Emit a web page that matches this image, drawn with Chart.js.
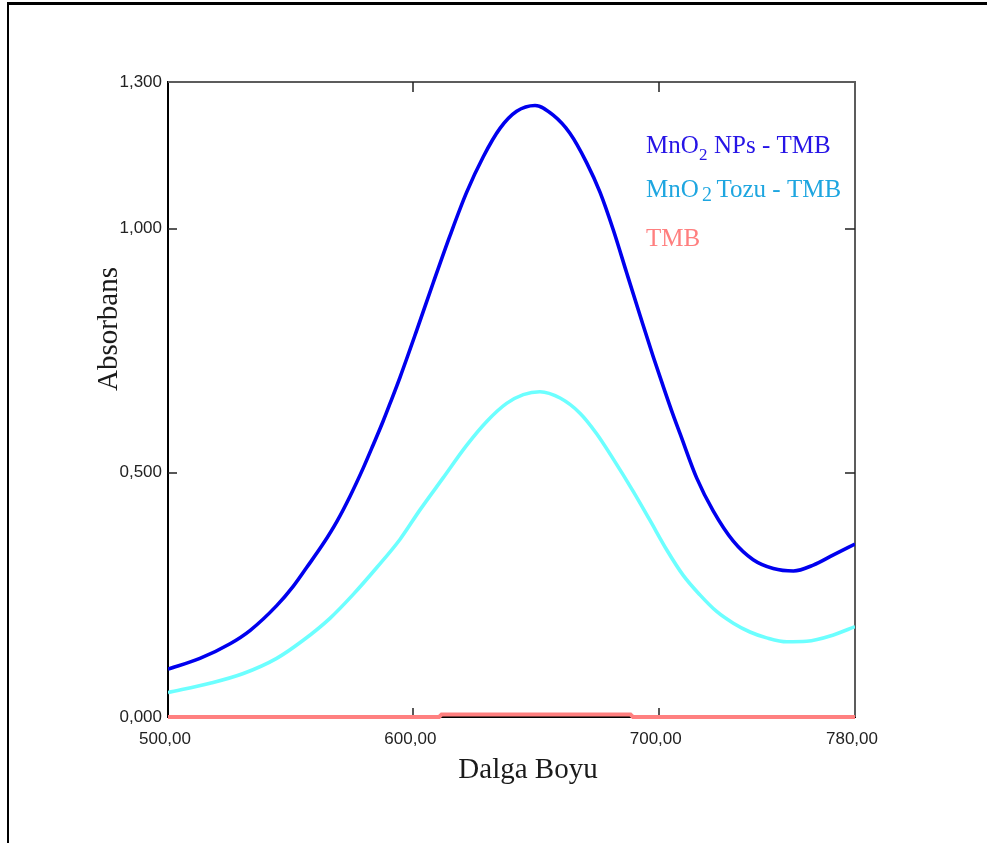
<!DOCTYPE html>
<html lang="tr">
<head>
<meta charset="utf-8">
<title>Absorbans spektrumu</title>
<script src="https://cdn.jsdelivr.net/npm/chart.js@4/dist/chart.umd.min.js"></script>
<style>
  html, body { margin: 0; padding: 0; background: #fff; }
  #wrap { position: relative; width: 987px; height: 843px; overflow: hidden; }
  #wrap canvas { position: absolute; left: 0; top: 0; }
  #frame { position: absolute; left: 7px; top: 2px; right: -10px; bottom: -10px;
           border-left: 2px solid #000; border-top: 3px solid #000; pointer-events: none; }
</style>
</head>
<body>
<div id="wrap">
  <canvas id="spectrum" width="987" height="843"></canvas>
  <div id="frame"></div>
</div>
<script>
// Wavelength (nm) and absorbance pairs for each measured spectrum
const npsWavelength = [500, 513, 525.3, 533.4, 544.3, 551.1, 556.5, 563.3, 568.8, 574.2, 579.6, 583.7, 587.7, 590.5, 594.6, 601.4, 608.1, 614.9, 621.7, 628.5, 635.3, 642.1, 649.6, 657.0, 663.8, 670.6, 676.1, 681.5, 686.9, 692.4, 697.8, 701.9, 705.9, 708.7, 715.5, 722.2, 730.4, 738.5, 746.7, 754.9, 763.0, 771.2, 780];
const npsAbsorbance = [0.098, 0.120, 0.150, 0.177, 0.228, 0.268, 0.306, 0.355, 0.400, 0.452, 0.510, 0.558, 0.606, 0.642, 0.696, 0.792, 0.889, 0.985, 1.074, 1.147, 1.205, 1.240, 1.252, 1.232, 1.195, 1.135, 1.074, 0.997, 0.910, 0.822, 0.737, 0.676, 0.618, 0.580, 0.489, 0.422, 0.360, 0.322, 0.304, 0.299, 0.311, 0.332, 0.354];

const tozuWavelength = [500, 517.1, 530.7, 544.3, 555.1, 566.0, 575.5, 585.1, 594.6, 602.7, 612.2, 621.7, 629.9, 638.0, 644.8, 651.6, 659.8, 667.9, 674.7, 681.5, 689.6, 696.4, 703.3, 710.0, 716.8, 723.6, 730.4, 737.2, 744.0, 752.2, 760.3, 771.2, 780];
const tozuAbsorbance = [0.050, 0.069, 0.089, 0.120, 0.157, 0.202, 0.251, 0.306, 0.364, 0.424, 0.490, 0.556, 0.605, 0.642, 0.660, 0.666, 0.653, 0.622, 0.580, 0.528, 0.462, 0.403, 0.342, 0.290, 0.250, 0.216, 0.192, 0.174, 0.162, 0.154, 0.155, 0.168, 0.185];

const tmbWavelength = [500, 610.5, 611.5, 688.5, 689.5, 780];
const tmbAbsorbance = [0, 0, 0.005, 0.005, 0, 0];

// Axis ticks
const xTickValues = [500, 600, 700, 780];
const yTickValues = [0, 0.5, 1.0, 1.3];

// Legend entries: [main text, subscript, rest]
const legendEntries = [
  ['MnO', '2', 'NPs - TMB'],
  ['MnO', '2', 'Tozu - TMB'],
  ['TMB', '', '']
];

const pairs = (xs, ys) => xs.map((v, i) => ({ x: v, y: ys[i] }));
const comma = (v, d) => v.toFixed(d).replace('.', ',');
const SERIF = '"Liberation Serif", "Times New Roman", serif';

// Box edges, inward tick marks, axis titles and the text legend
const decorPlugin = {
  id: 'decor',
  beforeDatasetsDraw(chart) {
    const { ctx, chartArea: { left, right, top, bottom }, scales: { x, y } } = chart;
    ctx.save();
    ctx.strokeStyle = '#5c5c5c';
    ctx.lineWidth = 2;
    ctx.beginPath();
    ctx.moveTo(left, top);
    ctx.lineTo(right, top);
    ctx.lineTo(right, bottom);
    ctx.stroke();

    ctx.strokeStyle = '#222';
    ctx.lineWidth = 1.5;
    ctx.beginPath();
    xTickValues.slice(1, -1).forEach(v => {
      const px = Math.round(x.getPixelForValue(v));
      ctx.moveTo(px, bottom); ctx.lineTo(px, bottom - 9);
      ctx.moveTo(px, top); ctx.lineTo(px, top + 10);
    });
    yTickValues.slice(1, -1).forEach(v => {
      const py = Math.round(y.getPixelForValue(v));
      ctx.moveTo(left, py); ctx.lineTo(left + 9, py);
      ctx.moveTo(right, py); ctx.lineTo(right - 10, py);
    });
    ctx.stroke();
    ctx.restore();
  },
  afterDraw(chart) {
    const { ctx } = chart;
    ctx.save();
    ctx.fillStyle = '#1a1a1a';
    ctx.font = '29px ' + SERIF;
    ctx.textAlign = 'center';
    ctx.textBaseline = 'alphabetic';
    ctx.fillText('Dalga Boyu', 528, 778);
    ctx.translate(117, 329);
    ctx.rotate(-Math.PI / 2);
    ctx.fillText('Absorbans', 0, 0);
    ctx.restore();

    // legend text in the series colours
    const rows = [
      { base: 153, color: '#2614e6', subX: 699, subSize: 17, subDy: 7, restX: 714 },
      { base: 197, color: '#1ea6e0', subX: 702, subSize: 20, subDy: 4, restX: 716.5 },
      { base: 246, color: '#ff7f7f', subX: 0, subSize: 0, subDy: 0, restX: 0 }
    ];
    ctx.save();
    ctx.textAlign = 'left';
    ctx.textBaseline = 'alphabetic';
    legendEntries.forEach((entry, i) => {
      const r = rows[i];
      ctx.fillStyle = r.color;
      ctx.font = '25px ' + SERIF;
      ctx.fillText(entry[0], 646, r.base);
      if (entry[1]) {
        ctx.font = r.subSize + 'px ' + SERIF;
        ctx.fillText(entry[1], r.subX, r.base + r.subDy);
      }
      if (entry[2]) {
        ctx.font = '25px ' + SERIF;
        ctx.fillText(entry[2], r.restX, r.base);
      }
    });
    ctx.restore();
  }
};

new Chart(document.getElementById('spectrum'), {
  type: 'line',
  data: {
    datasets: [
      {
        label: 'MnO2NPs - TMB',
        data: pairs(npsWavelength, npsAbsorbance),
        borderColor: '#0000ee',
        borderWidth: 3.6,
        pointRadius: 0,
        cubicInterpolationMode: 'monotone',
        fill: false
      },
      {
        label: 'MnO2Tozu - TMB',
        data: pairs(tozuWavelength, tozuAbsorbance),
        borderColor: '#6cffff',
        borderWidth: 3.6,
        pointRadius: 0,
        cubicInterpolationMode: 'monotone',
        fill: false
      },
      {
        label: 'TMB',
        data: pairs(tmbWavelength, tmbAbsorbance),
        borderColor: '#ff8080',
        borderWidth: 4,
        pointRadius: 0,
        tension: 0,
        fill: false,
        clip: 6
      }
    ]
  },
  options: {
    responsive: false,
    animation: false,
    events: [],
    layout: { padding: { top: 82, right: 132, left: 0, bottom: 0 } },
    plugins: { legend: { display: false }, tooltip: { enabled: false } },
    scales: {
      x: {
        type: 'linear',
        min: 500,
        max: 780,
        afterFit: s => { s.height = 126; },
        afterBuildTicks: s => { s.ticks = xTickValues.map(v => ({ value: v })); },
        grid: { display: false, drawTicks: false },
        border: { display: true, color: '#000', width: 2 },
        ticks: {
          padding: 12,
          labelOffset: -3,
          color: '#222',
          font: { family: '"Liberation Sans", Arial, sans-serif', size: 17 },
          maxRotation: 0,
          autoSkip: false,
          callback: v => comma(v, 2)
        }
      },
      y: {
        type: 'linear',
        min: 0,
        max: 1.3,
        afterFit: s => { s.width = 168; },
        afterBuildTicks: s => { s.ticks = yTickValues.map(v => ({ value: v })); },
        grid: { display: false, drawTicks: false },
        border: { display: true, color: '#000', width: 2 },
        ticks: {
          padding: 6,
          color: '#222',
          font: { family: '"Liberation Sans", Arial, sans-serif', size: 17 },
          autoSkip: false,
          callback: v => comma(v, 3)
        }
      }
    }
  },
  plugins: [decorPlugin]
});
</script>
</body>
</html>
